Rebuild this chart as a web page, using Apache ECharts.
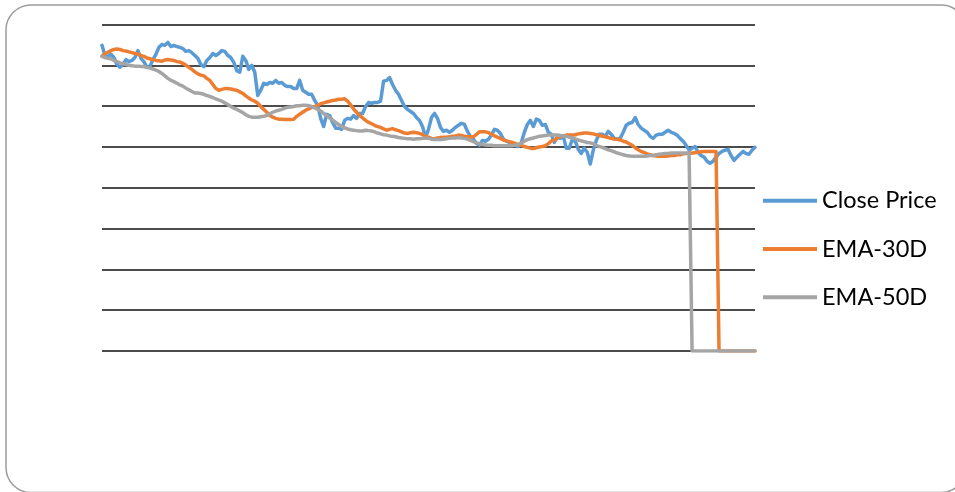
<!DOCTYPE html>
<html>
<head>
<meta charset="utf-8">
<script src="https://cdn.jsdelivr.net/npm/echarts@6/dist/echarts.min.js"></script>
<style>
  html, body { margin: 0; padding: 0; background: #ffffff; }
  #chart { width: 955px; height: 492px; }
</style>
</head>
<body>
<div id="chart"></div>
<script>
// Daily closing price with its 30-day and 50-day exponential moving averages.
const closePrice = [
  7.49,7.24,7.22,7.27,7.19,7.02,6.95,7.02,7.14,7.09,
  7.12,7.19,7.36,7.17,7.09,6.95,6.97,7.14,7.27,7.44,
  7.51,7.49,7.56,7.46,7.49,7.46,7.44,7.41,7.34,7.36,
  7.31,7.24,7.17,7.02,6.97,7.12,7.19,7.29,7.24,7.29,
  7.36,7.34,7.24,7.19,7.07,6.87,6.83,7.22,7.12,6.90,
  7.00,6.83,6.26,6.39,6.56,6.53,6.58,6.56,6.63,6.56,
  6.58,6.51,6.48,6.48,6.43,6.43,6.63,6.39,6.34,6.29,
  6.29,6.14,6.02,5.70,5.50,5.80,5.77,5.60,5.46,5.46,
  5.43,5.65,5.70,5.68,5.77,5.70,5.82,5.82,5.99,6.09,
  6.07,6.09,6.09,6.12,6.61,6.63,6.70,6.53,6.39,6.29,
  6.14,5.99,5.92,5.87,5.82,5.72,5.65,5.50,5.24,5.43,
  5.72,5.82,5.70,5.48,5.38,5.41,5.36,5.41,5.48,5.53,
  5.58,5.55,5.38,5.26,5.19,5.09,5.04,5.16,5.14,5.19,
  5.29,5.43,5.41,5.33,5.19,5.14,5.11,5.06,5.04,5.01,
  5.11,5.36,5.55,5.65,5.50,5.68,5.65,5.53,5.55,5.36,
  5.31,5.11,5.24,5.21,5.26,4.97,4.97,5.19,5.14,4.94,
  4.84,4.97,4.87,4.58,4.92,5.16,5.31,5.31,5.26,5.38,
  5.31,5.21,5.19,5.21,5.36,5.53,5.58,5.60,5.72,5.55,
  5.46,5.41,5.36,5.26,5.21,5.29,5.31,5.31,5.36,5.41,
  5.36,5.33,5.29,5.21,5.14,5.04,4.92,4.97,5.01,4.87,
  4.79,4.75,4.65,4.60,4.65,4.75,4.84,4.89,4.92,4.94,
  4.79,4.67,4.75,4.82,4.89,4.84,4.82,4.92,4.99
];

const ema30 = [
  7.22,7.29,7.32,7.36,7.39,7.40,7.39,7.36,7.35,7.33,
  7.31,7.29,7.28,7.24,7.22,7.18,7.16,7.14,7.12,7.11,
  7.10,7.13,7.14,7.13,7.12,7.09,7.08,7.05,7.00,6.95,
  6.90,6.84,6.79,6.76,6.74,6.68,6.63,6.53,6.43,6.39,
  6.41,6.43,6.43,6.42,6.40,6.39,6.35,6.31,6.25,6.20,
  6.15,6.12,6.07,5.99,5.92,5.85,5.77,5.73,5.70,5.68,
  5.68,5.67,5.67,5.67,5.68,5.75,5.80,5.85,5.90,5.93,
  5.97,5.99,6.02,6.06,6.08,6.10,6.12,6.14,6.15,6.17,
  6.17,6.18,6.12,6.03,5.93,5.85,5.77,5.71,5.65,5.60,
  5.57,5.53,5.50,5.48,5.44,5.41,5.43,5.45,5.42,5.40,
  5.37,5.34,5.33,5.35,5.36,5.35,5.33,5.30,5.26,5.24,
  5.21,5.20,5.22,5.23,5.24,5.24,5.25,5.26,5.27,5.29,
  5.28,5.26,5.25,5.25,5.25,5.31,5.37,5.37,5.37,5.35,
  5.31,5.27,5.24,5.21,5.17,5.15,5.13,5.11,5.08,5.06,
  5.04,5.01,4.99,4.97,4.96,4.98,5.00,5.01,5.03,5.08,
  5.14,5.17,5.22,5.25,5.26,5.29,5.29,5.29,5.30,5.32,
  5.33,5.34,5.34,5.33,5.32,5.30,5.29,5.26,5.25,5.23,
  5.21,5.19,5.19,5.17,5.14,5.12,5.08,5.04,4.98,4.93,
  4.89,4.86,4.83,4.81,4.79,4.78,4.77,4.77,4.77,4.78,
  4.79,4.79,4.81,4.81,4.83,4.84,4.84,4.85,4.86,4.87,
  4.88,4.89,4.89,4.89,4.89,4.89,0,0,0,0,
  0,0,0,0,0,0,0,0,0
];

const ema50 = [
  7.22,7.19,7.17,7.16,7.12,7.09,7.06,7.04,7.02,7.00,
  6.99,6.98,6.98,6.97,6.97,6.95,6.93,6.91,6.88,6.85,
  6.80,6.74,6.68,6.63,6.60,6.56,6.52,6.49,6.44,6.40,
  6.36,6.32,6.32,6.31,6.29,6.26,6.24,6.21,6.18,6.15,
  6.12,6.08,6.04,5.99,5.95,5.92,5.88,5.84,5.79,5.75,
  5.73,5.73,5.73,5.74,5.75,5.77,5.81,5.85,5.88,5.90,
  5.92,5.95,5.97,5.98,5.99,6.01,6.01,6.02,6.02,6.01,
  5.99,5.96,5.92,5.88,5.82,5.77,5.71,5.66,5.60,5.55,
  5.50,5.47,5.44,5.42,5.41,5.40,5.39,5.39,5.41,5.40,
  5.39,5.37,5.34,5.32,5.30,5.29,5.27,5.26,5.25,5.23,
  5.22,5.21,5.20,5.20,5.19,5.20,5.20,5.21,5.22,5.21,
  5.19,5.18,5.18,5.18,5.19,5.20,5.21,5.22,5.22,5.23,
  5.22,5.21,5.19,5.16,5.13,5.10,5.08,5.06,5.05,5.04,
  5.04,5.03,5.03,5.03,5.03,5.03,5.03,5.03,5.04,5.06,
  5.10,5.14,5.18,5.20,5.22,5.24,5.26,5.27,5.28,5.29,
  5.29,5.29,5.29,5.28,5.27,5.26,5.24,5.22,5.20,5.17,
  5.15,5.13,5.11,5.10,5.08,5.04,5.01,4.99,4.96,4.93,
  4.91,4.88,4.85,4.83,4.81,4.79,4.78,4.77,4.77,4.77,
  4.77,4.77,4.78,4.79,4.79,4.81,4.82,4.83,4.84,4.84,
  4.85,4.85,4.85,4.85,4.85,4.85,4.85,0,0,0,
  0,0,0,0,0,0,0,0,0,0,
  0,0,0,0,0,0,0,0,0
];

const seriesNames = ['Close Price', 'EMA-30D', 'EMA-50D'];
const seriesColors = ['#5B9BD5', '#ED7D31', '#A5A5A5'];

// Trading-day index for the category axis (labels are not displayed).
const days = closePrice.map((_, i) => 'Day ' + (i + 1));

const chart = echarts.init(document.getElementById('chart'), null, { renderer: 'canvas' });

const lineSeries = [closePrice, ema30, ema50].map((values, k) => ({
  name: seriesNames[k],
  type: 'line',
  data: values,
  showSymbol: false,
  symbol: 'none',
  smooth: false,
  lineStyle: { color: seriesColors[k], width: 3.5, cap: 'round', join: 'round' },
  itemStyle: { color: seriesColors[k] },
  emphasis: { disabled: true }
}));

chart.setOption({
  animation: false,
  backgroundColor: '#ffffff',
  graphic: [{
    type: 'rect',
    silent: true,
    z: -10,
    shape: { x: 6, y: 5, width: 960, height: 487.5, r: 25 },
    style: { fill: 'none', stroke: '#9c9c9c', lineWidth: 1.5 }
  }],
  grid: { left: 102, right: 200, top: 24.5, bottom: 141 },
  xAxis: {
    type: 'category',
    data: days,
    boundaryGap: false,
    axisLine: { show: false },
    axisTick: { show: false },
    axisLabel: { show: false },
    splitLine: { show: false }
  },
  yAxis: {
    type: 'value',
    min: 0,
    max: 8,
    interval: 1,
    axisLine: { show: false },
    axisTick: { show: false },
    axisLabel: { show: false },
    splitLine: { show: true, lineStyle: { color: '#111111', width: 1.5 } }
  },
  legend: {
    orient: 'vertical',
    left: 763,
    top: 186.7,
    padding: 0,
    itemWidth: 54,
    itemHeight: 4,
    itemGap: 20.3,
    icon: 'rect',
    selectedMode: false,
    data: seriesNames,
    textStyle: { fontFamily: 'Lato', fontSize: 23.5, color: '#000000', lineHeight: 28 }
  },
  series: lineSeries
});
</script>
</body>
</html>
